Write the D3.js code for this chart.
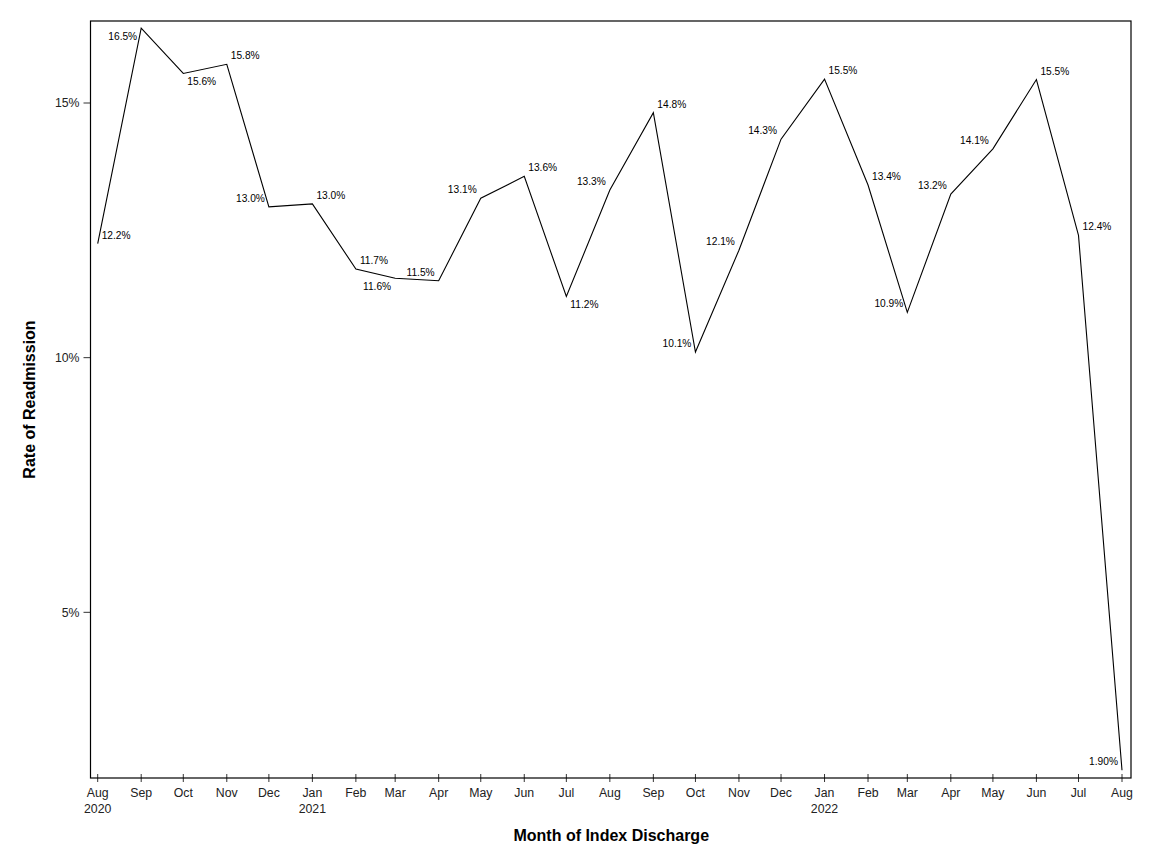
<!DOCTYPE html>
<html>
<head>
<meta charset="utf-8">
<script src="https://cdn.jsdelivr.net/npm/d3@7"></script>
<style>
  html, body { margin: 0; padding: 0; background: #fff; }
  text { font-family: "Liberation Sans", Arial, sans-serif; }
</style>
</head>
<body>
<div id="chart"></div>
<script>
// monthly readmission rate, Aug 2020 .. Aug 2022
var months = [
    '2020-08', '2020-09', '2020-10', '2020-11', '2020-12',
    '2021-01', '2021-02', '2021-03', '2021-04', '2021-05', '2021-06',
    '2021-07', '2021-08', '2021-09', '2021-10', '2021-11', '2021-12',
    '2022-01', '2022-02', '2022-03', '2022-04', '2022-05', '2022-06',
    '2022-07', '2022-08'
];
var rates = [
    12.24, 16.47, 15.58, 15.76, 12.96,
    13.02, 11.74, 11.56, 11.51, 13.13, 13.56,
    11.20, 13.29, 14.81, 10.11, 12.11, 14.29,
    15.47, 13.39, 10.89, 13.21, 14.10, 15.46,
    12.40, 1.90
];
// which side of the point each label sits on
var labelSide = [
    'NE', 'SW', 'SE', 'NE', 'NW',
    'NE', 'NE', 'SW', 'NW', 'NW', 'NE',
    'SE', 'NW', 'NE', 'NW', 'NW', 'NW',
    'NE', 'NE', 'NW', 'NW', 'NW', 'NE',
    'NE', 'NW'
];
var yTicks = [5, 10, 15];

var W = 1152, H = 864,
    frame = { left: 90.5, right: 1131, top: 21, bottom: 778 },
    parse = d3.timeParse('%Y-%m'),
    fmtLabel = d3.format('.3p');

var data = months.map(function(m, i) {
    return { date: parse(m), rate: rates[i], side: labelSide[i] };
});

var svg = d3.select('#chart').append('svg')
    .attr('width', W)
    .attr('height', H);

var x = d3.scaleTime()
    .domain([data[0].date, data[data.length - 1].date])
    .range([97.7, 1122]);
var y = d3.scaleLinear()
    .domain([1.747, 16.61])
    .range([frame.bottom, frame.top]);

// y axis ticks
var yAxis = svg.append('g').attr('transform', 'translate(' + frame.left + ',0)');
yAxis.selectAll('line.tick')
    .data(yTicks)
    .enter().append('line')
    .attr('x1', -7).attr('x2', 0)
    .attr('y1', function(d) { return y(d); })
    .attr('y2', function(d) { return y(d); })
    .style('stroke', '#333').style('stroke-width', 1);
yAxis.selectAll('text')
    .data(yTicks)
    .enter().append('text')
    .attr('x', -11)
    .attr('y', function(d) { return y(d); })
    .attr('dy', '0.35em')
    .attr('text-anchor', 'end')
    .style('font-size', '12.3px')
    .style('fill', '#222')
    .text(function(d) { return d + '%'; });

// x axis ticks (cross the axis line)
var xAxis = svg.append('g').attr('transform', 'translate(0,' + frame.bottom + ')');
xAxis.selectAll('line')
    .data(data)
    .enter().append('line')
    .attr('x1', function(d) { return x(d.date); })
    .attr('x2', function(d) { return x(d.date); })
    .attr('y1', -4).attr('y2', 4)
    .style('stroke', '#333').style('stroke-width', 1);
var xl = xAxis.selectAll('text')
    .data(data)
    .enter().append('text')
    .attr('x', function(d) { return x(d.date); })
    .attr('y', 19)
    .attr('text-anchor', 'middle')
    .style('font-size', '12.3px')
    .style('fill', '#222');
xl.append('tspan')
    .attr('x', function(d) { return x(d.date); })
    .text(function(d) { return d3.timeFormat('%b')(d.date); });
xl.filter(function(d, i) { return i === 0 || d.date.getMonth() === 0; })
    .append('tspan')
    .attr('x', function(d) { return x(d.date); })
    .attr('dy', 16)
    .text(function(d) { return d.date.getFullYear(); });

// frame
svg.append('rect')
    .attr('x', frame.left).attr('y', frame.top)
    .attr('width', frame.right - frame.left)
    .attr('height', frame.bottom - frame.top)
    .style('fill', 'none').style('stroke', '#000').style('stroke-width', 1.2);

// the line
var line = d3.line()
    .x(function(d) { return x(d.date); })
    .y(function(d) { return y(d.rate); });
svg.append('path')
    .datum(data)
    .attr('d', line)
    .style('fill', 'none')
    .style('stroke', '#000')
    .style('stroke-width', 1.1);

// point labels
svg.selectAll('text.lbl')
    .data(data)
    .enter().append('text')
    .attr('class', 'lbl')
    .attr('x', function(d) { return x(d.date) + (d.side[1] === 'E' ? 4 : -4); })
    .attr('y', function(d) { return y(d.rate) + (d.side[0] === 'N' ? -8.5 : 8); })
    .attr('dy', '0.35em')
    .attr('text-anchor', function(d) { return d.side[1] === 'E' ? 'start' : 'end'; })
    .style('font-size', '10.2px')
    .style('fill', '#000')
    .text(function(d) { return fmtLabel(d.rate / 100); });

// axis titles
svg.append('text')
    .attr('x', (frame.left + frame.right) / 2 + 0.5)
    .attr('y', 841)
    .attr('text-anchor', 'middle')
    .style('font-size', '16px')
    .style('font-weight', 'bold')
    .text('Month of Index Discharge');
svg.append('text')
    .attr('transform', 'translate(35,' + ((frame.top + frame.bottom) / 2) + ') rotate(-90)')
    .attr('text-anchor', 'middle')
    .style('font-size', '16px')
    .style('font-weight', 'bold')
    .text('Rate of Readmission');
</script>
</body>
</html>
